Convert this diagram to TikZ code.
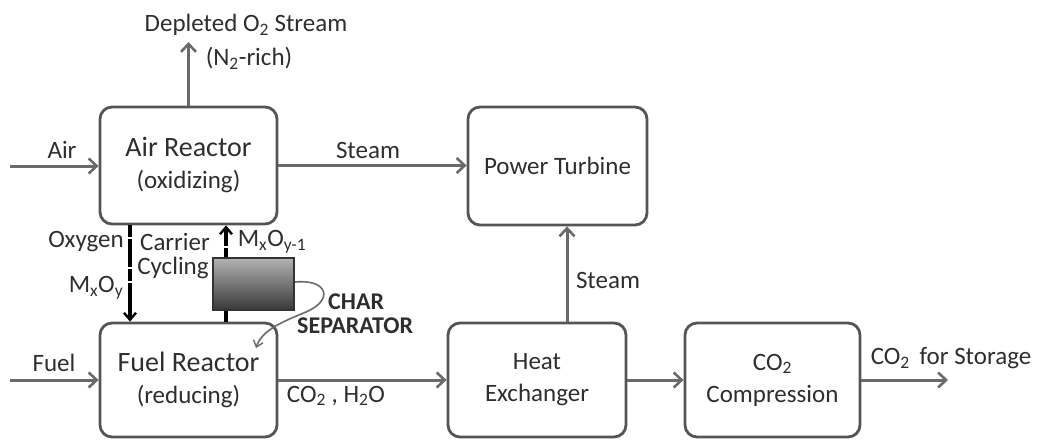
\documentclass[tikz,border=0pt]{standalone}
\usepackage{fontspec}
\setmainfont{Carlito}
\usetikzlibrary{arrows.meta,calc}
\definecolor{linegray}{HTML}{6A6A6A}
\definecolor{boxgray}{HTML}{555555}
\definecolor{txt}{HTML}{2E2E2E}
\tikzset{
  unit/.style={draw=boxgray, line width=2.8pt, rounded corners=12pt, align=center,
    font=\fontsize{25}{32}\selectfont, text=txt, inner sep=0pt},
  flow/.style={draw=linegray, line width=3pt, -{Straight Barb[length=8pt,width=15pt,line width=2.6pt]}},
  cyc/.style={draw=black, line width=3.2pt,
    -{Straight Barb[length=7pt,width=12pt,line width=2.4pt]}},
  lbl/.style={font=\fontsize{25}{30}\selectfont, text=txt, inner sep=0pt, align=center},
  blbl/.style={font=\bfseries\fontsize{24}{24}\selectfont, text=txt, inner sep=0pt, align=left},
  sepbox/.style={draw=black!80, line width=2.4pt, top color=black!30, bottom color=black!78,
    minimum width=81pt, minimum height=52pt, inner sep=0pt}
}
\begin{document}
\begin{tikzpicture}[x=1pt,y=-1pt]
\useasboundingbox (0,0) rectangle (1040,439);

% units
\node[unit, minimum width=177pt, minimum height=117pt] (air) at (188.5,165.5)
  {{\fontsize{28}{33}\selectfont Air Reactor}\\(oxidizing)};
\node[unit, minimum width=177pt, minimum height=114pt] (fuel) at (188.5,380)
  {{\fontsize{28}{33}\selectfont Fuel Reactor}\\(reducing)};
\node[unit, minimum width=179pt, minimum height=118pt] (pt) at (557.5,166)
  {Power Turbine};
\node[unit, minimum width=178pt, minimum height=114pt] (hx) at (537,380)
  {Heat\\Exchanger};
\node[unit, minimum width=175pt, minimum height=114pt] (comp) at (772.5,380)
  {CO\textsubscript{2}\\Compression};
\node[sepbox] (sep) at (253.5,284) {};

% free ends
\coordinate (airin) at (10,166);
\coordinate (fuelin) at (10,380);
\coordinate (depl) at (188.5,42);
\coordinate (out) at (948,380);
\coordinate (steamx) at (567,300);
\coordinate (dx) at (130,300);
\coordinate (ux) at (226,300);
\coordinate (charend) at (256,348);

% flows
\draw[flow] (airin) -- (airin -| air.west);
\draw[flow] (air.east) -- (air.east -| pt.west);
\draw[flow] (air.north) -- (depl);
\draw[flow] (fuelin) -- (fuelin -| fuel.west);
\draw[flow] (fuel.east) -- (hx.west);
\draw[flow] (hx.east) -- (comp.west);
\draw[flow] (comp.east) -- (out);
\draw[flow] (steamx |- hx.north) -- (steamx |- pt.south);

% carrier cycling
\draw[cyc, dash pattern=on 12pt off 2pt on 28pt off 2pt on 12pt off 2pt on 80pt]
  (dx |- air.south) -- (dx |- fuel.north);
\draw[cyc, dash pattern=on 9pt off 2pt on 60pt] (ux |- sep.north) -- (ux |- air.south);
\draw[draw=black, line width=3.2pt] (ux |- sep.south) -- (ux |- fuel.north);

% char return
\draw[draw=linegray, line width=1.6pt, -{Straight Barb[length=6pt,width=10pt,line width=1.4pt]}]
  (sep.east |- 0,282) .. controls (328,279) and (334,300) .. (306,312)
  .. controls (282,322) and (262,330) .. (charend);

% labels
\node[lbl] (lair) at (62,150) {Air};
\node[lbl] (lsteam1) at (368,150) {Steam};
\node[lbl] (ldepl) at (246,25) {Depleted O\textsubscript{2} Stream};
\node[lbl] (ln2) at (249,58) {(N\textsubscript{2}-rich)};
\node[lbl] (loxy) at (86,242) {Oxygen};
\node[lbl] (lcarr) at (175,242) {Carrier};
\node[lbl] (lcyc) at (173,268) {Cycling};
\node[lbl] (lmo) at (96,288) {M\textsubscript{x}O\textsubscript{y}};
\node[lbl] (lmo1) at (272,242) {M\textsubscript{x}O\textsubscript{y-1}};
\node[blbl, anchor=west] (lchar) at (328,302) {CHAR};
\node[blbl, anchor=west] (lsepr) at (297,326) {SEPARATOR};
\node[lbl] (lfuel) at (54,363) {Fuel};
\node[lbl] (lco2h2o) at (336,396) {CO\textsubscript{2} , H\textsubscript{2}O};
\node[lbl] (lsteam2) at (608,280) {Steam};
\node[lbl] (lstore) at (951,358) {CO\textsubscript{2} \,for Storage};
\end{tikzpicture}
\end{document}
